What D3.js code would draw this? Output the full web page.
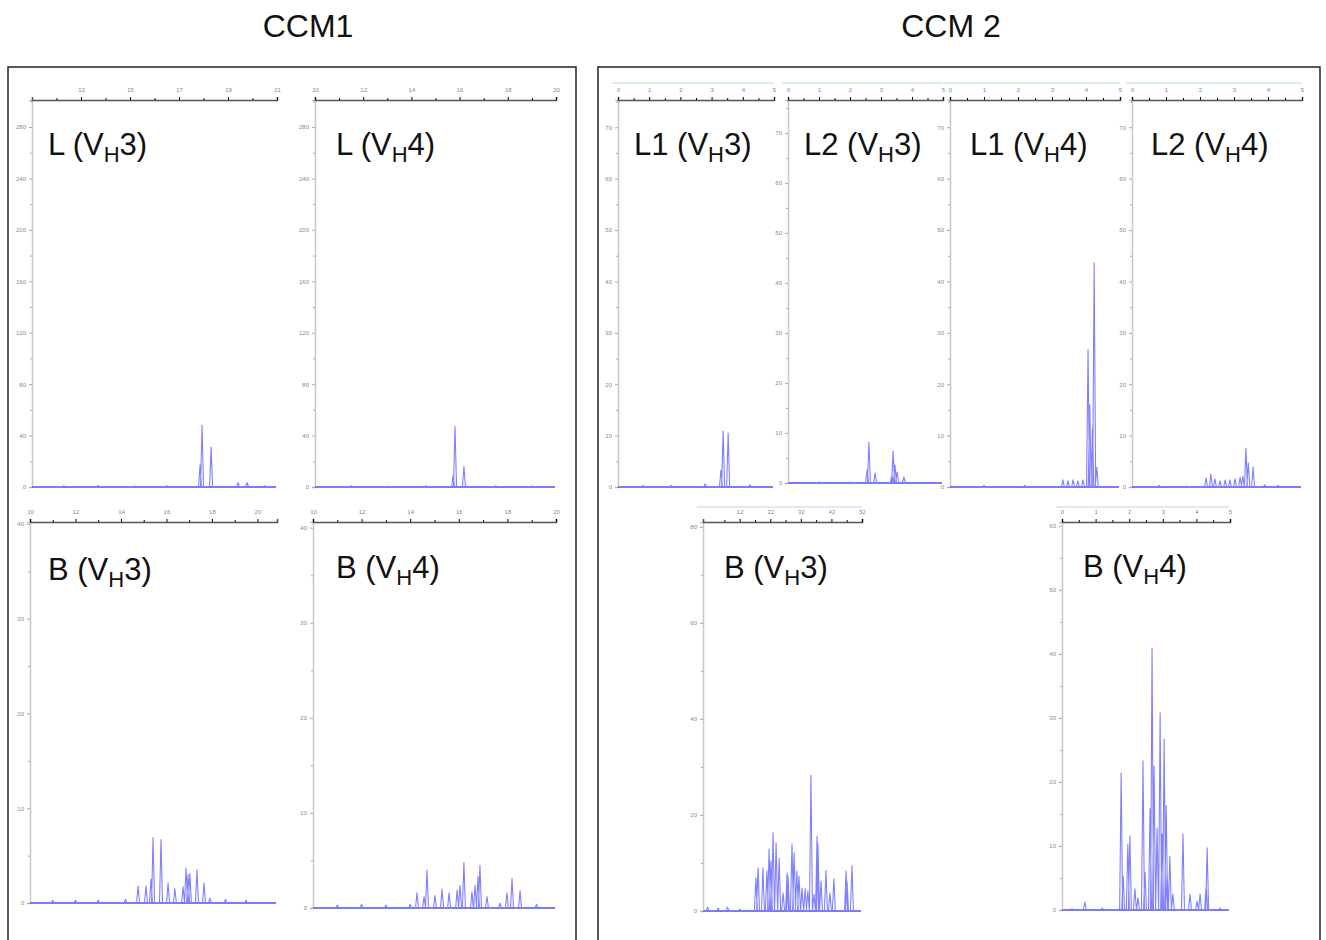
<!DOCTYPE html>
<html>
<head>
<meta charset="utf-8">
<script src="https://cdn.jsdelivr.net/npm/d3@7"></script>
<style>
  body { margin: 0; background: #fff; }
  svg { display: block; font-family: "Liberation Sans", Arial, sans-serif; }
  .tick text { fill: #888; font-size: 6px; }
</style>
</head>
<body>
<div class="canvas"></div>
<script>
// peak positions [x, height]
var ccm1_L_VH3 = [[12.3,1],[13.7,1.2],[15.2,0.8],[16.5,1],[17.86,17],[17.94,48],[18.31,31],[19.41,3.5],[19.78,3.5],[20.5,1]];
var ccm1_L_VH4 = [[11.5,1],[13.0,0.8],[14.6,1],[15.73,9],[15.81,47],[16.18,16],[17.5,1],[19,0.8]];
var ccm1_B_VH3 = [[11,0.3],[12,0.3],[13,0.3],[14.2,0.4],[14.75,1.8],[15.10,1.8],[15.32,2.5],[15.41,6.9],[15.76,6.7],[16.07,2.1],[16.37,1.5],[16.73,1.7],[16.86,3.7],[16.95,3.0],[17.03,3.1],[17.34,3.5],[17.65,2.1],[17.91,0.5],[18.6,0.4],[19.5,0.3]];
var ccm1_B_VH4 = [[11,0.3],[12,0.4],[13,0.3],[14.0,0.4],[14.28,1.6],[14.57,1.2],[14.69,4.0],[15.02,1.3],[15.31,2.0],[15.60,1.6],[15.93,1.9],[16.05,2.4],[16.21,4.8],[16.54,1.7],[16.67,2.4],[16.79,3.3],[16.87,4.5],[17.16,1.2],[17.70,0.5],[17.98,1.6],[18.19,3.1],[18.52,1.8],[19.2,0.4]];
var ccm2_L1_VH3 = [[0.8,0.3],[1.7,0.3],[2.79,0.6],[3.30,3.3],[3.37,10.9],[3.53,10.5],[4.23,0.4]];
var ccm2_L2_VH3 = [[1.0,0.2],[2.0,0.2],[2.55,2.6],[2.61,8.2],[2.81,2.0],[3.35,1.6],[3.39,6.4],[3.45,3.6],[3.52,2.2],[3.74,1.2]];
var ccm2_L1_VH4 = [[1.0,0.3],[2.2,0.3],[3.32,1.4],[3.47,1.2],[3.62,1.4],[3.76,1.2],[3.91,1.4],[4.06,26.8],[4.11,16.0],[4.19,11.5],[4.24,43.6],[4.32,3.9]];
var ccm2_L2_VH4 = [[0.8,0.3],[1.6,0.2],[2.18,1.75],[2.32,2.5],[2.44,1.6],[2.59,1.2],[2.74,1.4],[2.88,1.4],[3.03,1.6],[3.18,1.9],[3.26,2.1],[3.35,7.6],[3.42,4.7],[3.56,3.9],[3.9,0.4],[4.3,0.3]];
var ccm2_B_VH3 = [[1.5,0.8],[5,0.6],[8,0.8],[12,0.4],[17.3,6.9],[18.0,9.0],[19.6,9.0],[20.9,8.3],[21.6,12.9],[22.2,10.4],[22.9,16.3],[23.9,14.2],[24.9,11.0],[26.2,3.75],[27.5,7.9],[27.8,7.3],[29.1,14.0],[29.8,12.1],[30.7,8.3],[31.4,7.3],[32.4,4.8],[33.4,4.6],[34.3,4.2],[35.3,28.3],[36.3,3.5],[37.3,15.6],[37.6,14.0],[38.6,6.25],[40.2,8.5],[41.5,3.75],[42.8,6.7],[46.8,8.3],[47.1,6.25],[48.7,9.4]];
var ccm2_B_VH4 = [[0.3,0.2],[0.68,1.25],[1.2,0.3],[1.76,21.4],[1.82,5.3],[1.96,10.3],[2.02,11.6],[2.17,3.3],[2.26,1.9],[2.41,23.3],[2.47,5.9],[2.62,15.8],[2.68,40.9],[2.74,22.5],[2.83,12.8],[2.92,30.8],[2.98,11.9],[3.04,26.7],[3.10,16.3],[3.13,5.6],[3.21,8.4],[3.30,2.5],[3.60,11.9],[3.81,2.5],[4.02,1.4],[4.11,2.5],[4.29,3.75],[4.32,9.7],[4.7,0.3]];

// tick values
var ticksA = [13,15,17,19,21], minorA = [12,14,16,18,20];
var ticksB = [10,12,14,16,18,20], minorB = [11,13,15,17,19];
var ticksC = [0,1,2,3,4,5], minorC = [0.5,1.5,2.5,3.5,4.5];
var ticksD = [12,22,32,42,52], minorD = [7,17,27,37,47];
var yTicks40 = [0,40,80,120,160,200,240,280], yMinor40 = [20,60,100,140,180,220,260,300];
var yTicks10 = [0,10,20,30,40], yMinor10 = [5,15,25,35];
var yTicks70 = [0,10,20,30,40,50,60,70], yMinor70 = [5,15,25,35,45,55,65,75];
var yTicks80 = [0,20,40,60,80], yMinor80 = [10,30,50,70];
var yTicks60 = [0,10,20,30,40,50,60], yMinor60 = [5,15,25,35,45,55];

var width = 1326, height = 940;

var svg = d3.select('.canvas')
  .append('svg')
  .attr('width', width)
  .attr('height', height);

// group frames
svg.append('rect').attr('x', 8).attr('y', 67).attr('width', 568).attr('height', 890)
  .attr('fill', 'none').attr('stroke', '#222').attr('stroke-width', 1.5);
svg.append('rect').attr('x', 598).attr('y', 67).attr('width', 722).attr('height', 890)
  .attr('fill', 'none').attr('stroke', '#222').attr('stroke-width', 1.5);

svg.append('text').attr('x', 308).attr('y', 37).attr('text-anchor', 'middle')
  .attr('font-size', 32).attr('fill', '#111').text('CCM1');
svg.append('text').attr('x', 951).attr('y', 37).attr('text-anchor', 'middle')
  .attr('font-size', 32).attr('fill', '#111').text('CCM 2');

var panels = [
  {name: 'L', sub: '3', data: ccm1_L_VH3, x0: 32, x1: 277, top: 100, base: 487, xd: [11,21], xt: ticksA, xm: minorA, yd: [0,301], yt: yTicks40, ym: yMinor40, lx: 48, ly: 155},
  {name: 'L', sub: '4', data: ccm1_L_VH4, x0: 315, x1: 556, top: 100, base: 487, xd: [10,20], xt: ticksB, xm: minorB, yd: [0,301], yt: yTicks40, ym: yMinor40, lx: 336, ly: 155},
  {name: 'B', sub: '3', data: ccm1_B_VH3, x0: 30, x1: 277, top: 522, base: 903, xd: [10,20.86], xt: ticksB, xm: minorB, yd: [0,40.2], yt: yTicks10, ym: yMinor10, lx: 48, ly: 580},
  {name: 'B', sub: '4', data: ccm1_B_VH4, x0: 313, x1: 556, top: 522, base: 908, xd: [10,20], xt: ticksB, xm: minorB, yd: [0,40.6], yt: yTicks10, ym: yMinor10, lx: 336, ly: 578},
  {name: 'L1', sub: '3', data: ccm2_L1_VH3, x0: 618, x1: 774, top: 100, base: 487, xd: [0,5], xt: ticksC, xm: minorC, yd: [0,75.3], yt: yTicks70, ym: yMinor70, lx: 634, ly: 155, band: 83},
  {name: 'L2', sub: '3', data: ccm2_L2_VH3, x0: 788, x1: 943, top: 100, base: 483, xd: [0,5], xt: ticksC, xm: minorC, yd: [0,76.6], yt: yTicks70, ym: yMinor70, lx: 804, ly: 155, band: 83},
  {name: 'L1', sub: '4', data: ccm2_L1_VH4, x0: 950, x1: 1120, top: 100, base: 487, xd: [0,5], xt: ticksC, xm: minorC, yd: [0,75.3], yt: yTicks70, ym: yMinor70, lx: 970, ly: 155, band: 83},
  {name: 'L2', sub: '4', data: ccm2_L2_VH4, x0: 1132, x1: 1302, top: 100, base: 487, xd: [0,5], xt: ticksC, xm: minorC, yd: [0,75.3], yt: yTicks70, ym: yMinor70, lx: 1151, ly: 155, band: 83},
  {name: 'B', sub: '3', data: ccm2_B_VH3, x0: 703, x1: 862, top: 522, base: 911, xd: [0,52], xt: ticksD, xm: minorD, yd: [0,81], yt: yTicks80, ym: yMinor80, lx: 724, ly: 578, band: 507},
  {name: 'B', sub: '4', data: ccm2_B_VH4, x0: 1062, x1: 1230, top: 522, base: 910, xd: [0,5], xt: ticksC, xm: minorC, yd: [0,60.6], yt: yTicks60, ym: yMinor60, lx: 1083, ly: 577, band: 507}
];

panels.forEach(drawPanel);

function drawPanel(p) {
  var g = svg.append('g');
  var xscale = d3.scaleLinear().domain(p.xd).range([p.x0, p.x1]);
  var yscale = d3.scaleLinear().domain(p.yd).range([p.base, p.top]);

  if (p.band) {
    g.append('line').attr('x1', p.x0 - 6).attr('x2', p.x1).attr('y1', p.band).attr('y2', p.band)
      .attr('stroke', '#cfe6f3').attr('stroke-width', 1.5);
  }

  // left axis (light grey)
  var yaxis = g.append('g')
    .attr('transform', 'translate(' + p.x0 + ',0)')
    .call(d3.axisLeft(yscale).tickValues(p.yt).tickSize(3).tickFormat(d3.format('d')));
  g.append('g')
    .attr('transform', 'translate(' + p.x0 + ',0)')
    .call(d3.axisLeft(yscale).tickValues(p.ym).tickSize(2).tickFormat(''))
    .select('.domain').remove();
  yaxis.select('.domain').attr('stroke', '#c8c8c8').attr('stroke-width', 1.5);
  g.selectAll('.tick line').attr('stroke', '#aaa');

  // top axis (dark)
  var xaxis = g.append('g')
    .attr('transform', 'translate(0,' + p.top + ')')
    .call(d3.axisTop(xscale).tickValues(p.xt).tickSize(3).tickPadding(5).tickFormat(d3.format('d')));
  g.append('g')
    .attr('transform', 'translate(0,' + p.top + ')')
    .call(d3.axisTop(xscale).tickValues(p.xm).tickSize(2).tickFormat(''))
    .select('.domain').remove();
  xaxis.select('.domain').attr('stroke', '#555').attr('stroke-width', 1.6);

  // darker baseline under the trace
  g.append('line')
    .attr('x1', p.x0).attr('x2', p.x1 - 1)
    .attr('y1', p.base).attr('y2', p.base)
    .attr('stroke', '#4b4bee').attr('stroke-width', 1.4);

  // trace: narrow spikes rising from the baseline
  var w = 1.5;
  var pts = [[p.x0, p.base]];
  p.data.slice().sort(function(a, b) { return a[0] - b[0]; }).forEach(function(d) {
    var px = xscale(d[0]);
    pts.push([px - w, p.base], [px, yscale(d[1])], [px + w, p.base]);
  });
  pts.push([p.x1 - 1, p.base]);
  g.append('path')
    .attr('d', d3.line()(pts))
    .attr('fill', 'none')
    .attr('stroke', '#8080ff')
    .attr('stroke-width', 1.1)
    .attr('stroke-linejoin', 'round');

  // panel label, e.g. "L (VH3)" with subscript H
  var t = g.append('text').attr('x', p.lx).attr('y', p.ly).attr('font-size', 31).attr('fill', '#111');
  t.append('tspan').text(p.name + ' (V');
  t.append('tspan').attr('font-size', 22).attr('dy', 7).text('H');
  t.append('tspan').attr('dy', -7).text(p.sub + ')');
}
</script>
</body>
</html>
